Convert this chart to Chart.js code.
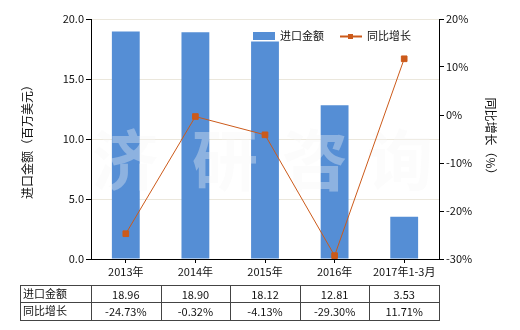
<!DOCTYPE html>
<html>
<head>
<meta charset="utf-8">
<script src="https://cdn.jsdelivr.net/npm/chart.js@4"></script>
<style>
  html, body { margin: 0; padding: 0; background: #fff; }
  #wrap { width: 520px; height: 330px; }
</style>
</head>
<body>
<div id="wrap"><canvas id="c" width="520" height="330"></canvas></div>
<script>
// data
const years = ['2013年', '2014年', '2015年', '2016年', '2017年1-3月'];
const importValue = [18.96, 18.90, 18.12, 12.81, 3.53];
const yoyGrowth = [-24.73, -0.32, -4.13, -29.30, 11.71];
const rowNames = ['进口金额', '同比增长'];
const importText = ['18.96', '18.90', '18.12', '12.81', '3.53'];
const growthText = ['-24.73%', '-0.32%', '-4.13%', '-29.30%', '11.71%'];

const FONT = '"Noto Sans CJK SC", "DejaVu Sans", sans-serif';
const BLUE = '#558ed5';
const ORANGE = '#cc5a1a';

// table under the x axis + legend + watermark
const extras = {
  id: 'extras',
  beforeDatasetDraw(chart, args) {
    if (args.meta.type !== 'line') return;
    const ctx = chart.ctx;
    ctx.save();
    ctx.fillStyle = 'rgba(246,246,246,0.35)';
    ctx.font = 'bold 66px ' + FONT;
    ctx.textBaseline = 'middle';
    ctx.textAlign = 'center';
    const chars = ['济', '研', '咨', '询'];
    const xs = [125, 225, 315, 400];
    chars.forEach((ch, i) => ctx.fillText(ch, xs[i], 160));
    ctx.restore();
  },
  afterDraw(chart) {
    const ctx = chart.ctx;
    const x = chart.scales.x;
    const area = chart.chartArea;
    const step = x.getPixelForValue(1) - x.getPixelForValue(0);
    const left = 20;
    const right = x.getPixelForValue(years.length - 1) + step / 2;
    const top = area.bottom + 26;
    const mid = top + 17;
    const bottom = mid + 18;

    ctx.save();
    ctx.strokeStyle = '#444';
    ctx.lineWidth = 1;
    ctx.beginPath();
    [top, mid, bottom].forEach(y => {
      ctx.moveTo(left, Math.round(y) + 0.5);
      ctx.lineTo(right, Math.round(y) + 0.5);
    });
    const cols = [left];
    for (let i = 0; i < years.length; i++) cols.push(x.getPixelForValue(i) - step / 2);
    cols.push(right);
    cols.forEach(cx => {
      ctx.moveTo(Math.round(cx) + 0.5, top);
      ctx.lineTo(Math.round(cx) + 0.5, bottom + 1);
    });
    ctx.stroke();

    ctx.fillStyle = '#111';
    ctx.font = '11px ' + FONT;
    ctx.textBaseline = 'middle';
    ctx.textAlign = 'left';
    ctx.fillText(rowNames[0], left + 3, (top + mid) / 2);
    ctx.fillText(rowNames[1], left + 3, (mid + bottom) / 2);
    ctx.textAlign = 'center';
    for (let i = 0; i < years.length; i++) {
      const cx = x.getPixelForValue(i);
      ctx.fillText(importText[i], cx, (top + mid) / 2 + 1);
      ctx.fillText(growthText[i], cx, (mid + bottom) / 2 + 1);
    }

    // legend
    const ly = 36;
    ctx.fillStyle = BLUE;
    ctx.fillRect(253, ly - 4, 22, 8);
    ctx.fillStyle = '#111';
    ctx.textAlign = 'left';
    ctx.fillText(chart.data.datasets[0].label, 280, ly);
    ctx.strokeStyle = ORANGE;
    ctx.lineWidth = 2;
    ctx.beginPath();
    ctx.moveTo(340, ly + 0.5);
    ctx.lineTo(362, ly + 0.5);
    ctx.stroke();
    ctx.fillStyle = ORANGE;
    ctx.fillRect(348, ly - 2, 5, 5);
    ctx.fillStyle = '#111';
    ctx.fillText(chart.data.datasets[1].label, 367, ly);
    ctx.restore();
  }
};

new Chart(document.getElementById('c'), {
  type: 'bar',
  data: {
    labels: years,
    datasets: [
      {
        label: '进口金额',
        data: importValue,
        backgroundColor: BLUE,
        yAxisID: 'y',
        barPercentage: 0.4,
        categoryPercentage: 1,
        order: 1
      },
      {
        label: '同比增长',
        type: 'line',
        data: yoyGrowth,
        borderColor: ORANGE,
        backgroundColor: ORANGE,
        borderWidth: 1,
        pointStyle: 'rect',
        pointRadius: 4,
        pointHoverRadius: 4,
        yAxisID: 'y1',
        order: 0
      }
    ]
  },
  options: {
    responsive: false,
    animation: false,
    layout: { padding: { top: 19, left: 0, right: 0, bottom: 0 } },
    plugins: {
      legend: { display: false },
      tooltip: { enabled: false }
    },
    scales: {
      x: {
        grid: { display: true, drawOnChartArea: false, offset: false, tickColor: '#000', tickLength: 4 },
        border: { color: '#000' },
        ticks: { color: '#111', font: { family: FONT, size: 11 }, padding: 2, maxRotation: 0 },
        afterFit(scale) { scale.height = 71; }
      },
      y: {
        position: 'left',
        min: 0, max: 20,
        ticks: {
          stepSize: 5,
          color: '#111',
          font: { family: FONT, size: 11 },
          padding: 2,
          callback: v => v.toFixed(1)
        },
        grid: { color: '#ebe7dc', tickColor: '#000', tickLength: 5 },
        border: { color: '#000' },
        title: { display: true, text: '进口金额（百万美元）', color: '#111', font: { family: FONT, size: 12 }, padding: { top: 20, bottom: 0 } },
        afterFit(scale) { scale.width = 91; }
      },
      y1: {
        position: 'right',
        min: -30, max: 20,
        ticks: {
          stepSize: 10,
          color: '#111',
          font: { family: FONT, size: 11 },
          padding: 2,
          callback: v => v + '%'
        },
        grid: { drawOnChartArea: false, tickColor: '#000', tickLength: 5 },
        border: { color: '#000' },
        title: { display: true, text: '同比增长（%）', color: '#111', font: { family: FONT, size: 12 }, padding: { top: 22, bottom: 0 } },
        afterFit(scale) { scale.width = 81; }
      }
    }
  },
  plugins: [extras]
});
</script>
</body>
</html>
